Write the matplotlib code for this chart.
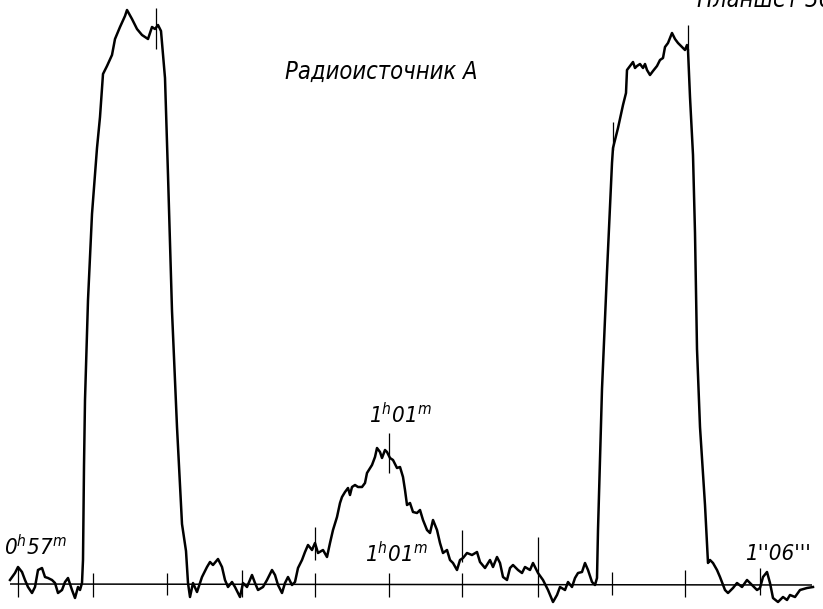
import matplotlib
matplotlib.use("Agg")
import matplotlib.pyplot as plt

plt.rcParams['mathtext.fontset'] = 'custom'
plt.rcParams['mathtext.rm'] = 'DejaVu Sans:italic:stretch=condensed'
plt.rcParams['mathtext.it'] = 'DejaVu Sans:italic:stretch=condensed'

# Recorder trace (x = chart position, y = deflection measured downward from top)
trace_x = [10, 15, 18, 22, 25, 28, 32, 35, 38, 42, 45, 48, 52, 55, 58, 62, 65, 68, 72, 75, 78, 80, 82,
           83, 84, 85, 88, 92, 97, 100, 103, 107, 112, 115, 120, 125, 127, 132, 137, 142, 148, 152, 155,
           158, 161, 165, 168, 172, 177, 182, 186, 188,
           190, 193, 197, 202, 207, 210, 213, 218, 222, 225, 228, 232, 235, 240, 243, 247, 252, 255, 258,
           263, 267, 272, 275, 278, 282, 285, 288, 292, 295, 298, 302, 305, 308, 312, 315, 318, 323, 327,
           330, 333, 337, 340, 342, 345, 348, 350, 352, 355, 358, 362, 365, 367, 372, 375, 377, 380, 382,
           385, 387, 390, 393, 397, 400, 403, 405, 407, 410, 413, 417, 420, 423, 427, 430, 433, 437, 440,
           443, 447, 450, 453, 457, 460, 463, 467, 472, 477, 480, 485, 490, 493, 497, 500, 503, 507, 510,
           513, 518, 522, 525, 530, 533, 538, 543, 548, 553, 557, 560, 565, 568, 572, 575, 578, 582, 585,
           588, 592, 595, 597,
           598, 600, 602, 607, 612, 613, 618, 623, 626, 627, 630, 633, 635, 637, 640, 643, 645, 647, 650,
           653, 657, 660, 663, 665, 668, 672, 675, 678, 682, 685, 687,
           688, 690, 693, 695, 697, 700, 705, 708,
           710, 713, 717, 720, 725, 728, 733, 737, 742, 747, 752, 757, 760, 763, 767, 770, 773, 778, 783,
           787, 790, 795, 800, 807, 813]
trace_y = [580, 573, 567, 572, 580, 587, 593, 587, 570, 568, 577, 578, 580, 583, 593, 590, 582, 578, 590,
           598, 587, 590, 583,
           560, 466, 400, 300, 214, 148, 117, 74, 66, 55, 39, 27, 16, 10, 19, 29, 35, 39, 27, 29,
           25, 31, 78, 175, 311, 427, 524, 551, 583,
           597, 583, 592, 577, 567, 562, 565, 559, 567, 580, 587, 582, 587, 597, 583, 587, 575, 583, 590,
           587, 580, 570, 575, 585, 593, 583, 577, 585, 582, 568, 560, 552, 545, 550, 543, 553, 550, 557,
           543, 530, 517, 503, 497, 492, 488, 495, 487, 485, 487, 487, 483, 473, 465, 457, 448, 452, 458,
           450, 452, 458, 460, 468, 467, 477, 490, 505, 503, 512, 513, 510, 520, 530, 533, 520, 530, 543,
           553, 550, 560, 563, 570, 560, 558, 553, 555, 552, 562, 568, 560, 567, 557, 563, 577, 580, 568,
           565, 570, 573, 567, 570, 563, 573, 580, 590, 602, 595, 587, 590, 582, 587, 578, 573, 572, 563,
           570, 582, 585, 578,
           530, 460, 389, 272, 163, 148, 128, 105, 93, 70, 66, 62, 68, 66, 64, 68, 64, 70, 75,
           71, 66, 60, 58, 47, 43, 33, 39, 43, 47, 50, 45,
           50, 97, 155, 233, 349, 427, 505, 563,
           560, 563, 570, 577, 590, 593, 588, 583, 587, 580, 585, 590, 588, 577, 572, 583, 598, 602, 597,
           600, 595, 597, 590, 588, 587]

# Time marks on the baseline
tick_x = [18, 93, 167, 242, 315, 389, 462, 538, 612, 685, 760]
tick_top = [568, 573, 573, 570, 573, 573, 573, 537, 572, 570, 568]
tick_bottom = [597, 597, 595, 597, 597, 597, 597, 597, 595, 597, 595]
# Marks crossing the trace
mark_x = [156, 315, 389, 462, 688, 613]
mark_top = [8, 527, 433, 530, 25, 122]
mark_bottom = [49, 560, 473, 562, 50, 150]

baseline_x = [10, 812]
baseline_y = [584, 585]

fig = plt.figure(figsize=(8.23, 6.09), dpi=100)
ax = fig.add_axes([0, 0, 1, 1])
ax.set_xlim(0, 823)
ax.set_ylim(609, 0)
ax.axis('off')

ax.plot(baseline_x, baseline_y, color='black', lw=1.1, solid_capstyle='butt')
ax.plot(trace_x, trace_y, color='black', lw=1.8, solid_joinstyle='round')
ax.vlines(tick_x, tick_top, tick_bottom, color='black', lw=0.9)
ax.vlines(mark_x, mark_top, mark_bottom, color='black', lw=0.9)

txt = dict(family='DejaVu Sans', style='italic', stretch='condensed')
ax.text(381, 79, 'Радиоисточник А', fontsize=17, ha='center', va='baseline', **txt)
ax.text(400, 423, r'$1^{h}01^{m}$', fontsize=16, ha='center', va='baseline')
ax.text(396, 562, r'$1^{h}01^{m}$', fontsize=16, ha='center', va='baseline')
ax.text(4, 555, r'$0^{h}57^{m}$', fontsize=16, ha='left', va='baseline')
ax.text(778, 560, "1''06'''", fontsize=16, ha='center', va='baseline', **txt)
ax.text(765, 7, 'Планшет 30', fontsize=17, ha='center', va='baseline', **txt)

fig.savefig('out.png', dpi=100)
